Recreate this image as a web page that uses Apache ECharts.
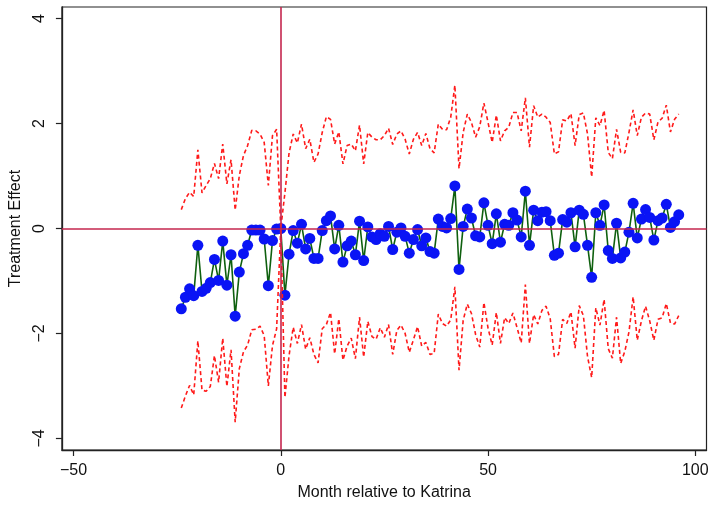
<!DOCTYPE html>
<html>
<head>
<meta charset="utf-8">
<script src="https://cdn.jsdelivr.net/npm/echarts@6/dist/echarts.min.js"></script>
<style>
html,body{margin:0;padding:0;background:#fff;}
#chart{width:713px;height:506px;}
</style>
</head>
<body>
<div id="chart"></div>
<script>
// Months relative to Katrina
var months = [-24,-23,-22,-21,-20,-19,-18,-17,-16,-15,-14,-13,-12,-11,-10,-9,-8,-7,-6,-5,-4,-3,-2,-1,
  0,1,2,3,4,5,6,7,8,9,10,11,12,13,14,15,16,17,18,19,20,21,22,23,24,25,26,27,28,29,30,31,32,33,34,35,36,
  37,38,39,40,41,42,43,44,45,46,47,48,49,50,51,52,53,54,55,56,57,58,59,60,61,62,63,64,65,66,67,68,69,70,
  71,72,73,74,75,76,77,78,79,80,81,82,83,84,85,86,87,88,89,90,91,92,93,94,95,96];

// Point estimates (treatment effect)
var estimate = [-1.53,-1.31,-1.15,-1.28,-0.32,-1.20,-1.14,-1.03,-0.59,-0.99,-0.24,-1.08,-0.50,-1.67,-0.83,-0.48,-0.32,-0.03,-0.03,-0.03,-0.20,-1.09,-0.23,-0.01,
  0.00,-1.27,-0.49,-0.04,-0.28,0.08,-0.39,-0.19,-0.57,-0.57,-0.04,0.15,0.24,-0.39,0.06,-0.64,-0.33,-0.24,-0.50,0.14,-0.61,0.03,-0.16,-0.21,-0.10,-0.15,0.04,-0.40,-0.07,0.01,-0.15,-0.47,-0.21,-0.02,-0.33,-0.18,-0.44,
  -0.47,0.18,0.04,0.01,0.19,0.81,-0.78,0.04,0.37,0.20,-0.14,-0.16,0.49,0.06,-0.29,0.28,-0.26,0.08,0.06,0.30,0.16,-0.16,0.71,-0.32,0.35,0.15,0.31,0.32,0.15,-0.51,-0.47,0.17,0.12,0.30,
  -0.35,0.35,0.27,-0.32,-0.93,0.30,0.06,0.45,-0.42,-0.57,0.10,-0.56,-0.45,-0.07,0.48,-0.18,0.18,0.36,0.21,-0.22,0.15,0.20,0.46,0.02,0.13,0.26];

// Half-width of the 95% confidence interval
var ciHalf = [1.89,1.88,1.84,1.89,1.82,1.88,1.96,1.98,1.83,1.94,1.85,1.93,1.81,2.02,1.84,1.87,1.90,1.90,1.89,1.83,1.84,1.91,2.00,1.90,
  0.00,1.95,1.93,1.84,1.91,1.91,1.91,1.89,1.83,1.99,1.87,1.98,1.84,2.00,1.78,1.87,1.91,1.85,1.98,1.83,1.84,1.80,1.90,1.90,1.79,1.92,1.87,2.00,1.87,1.85,1.85,1.89,1.91,1.85,1.91,1.99,1.96,
  1.91,1.81,1.85,1.87,1.93,1.92,1.92,1.79,1.81,1.82,1.88,2.10,1.90,1.96,1.93,1.88,1.93,1.78,1.87,1.91,2.05,2.02,1.78,1.87,1.99,1.97,1.87,1.80,1.87,1.93,1.93,1.90,1.93,1.89,
  1.93,1.82,1.93,2.12,1.91,1.81,1.90,1.80,1.87,1.90,1.79,2.01,1.89,1.90,1.78,1.95,1.94,1.84,1.97,1.91,1.88,1.90,1.89,1.82,1.95,1.92];

var xTicks = [-50, 0, 50, 100];
var yTicks = [-4, -2, 0, 2, 4];

var estData = [], upData = [], loData = [];
for (var i = 0; i < months.length; i++) {
  estData.push([months[i], estimate[i]]);
  upData.push([months[i], +(estimate[i] + ciHalf[i]).toFixed(3)]);
  loData.push([months[i], +(estimate[i] - ciHalf[i]).toFixed(3)]);
}

var FONT = 'Liberation Sans, Arial, sans-serif';
function fmt(v) { return v < 0 ? '\u2212' + Math.abs(v) : String(v); }
var chart = echarts.init(document.getElementById('chart'), null, {renderer: 'canvas'});
chart.setOption({
  animation: false,
  backgroundColor: '#ffffff',
  grid: {left: 60, right: 6.5, top: 7, bottom: 53.3, show: true, borderColor: '#222', borderWidth: 1.2, backgroundColor: 'transparent'},
  xAxis: {
    type: 'value', min: -52.8, max: 102.7,
    name: 'Month relative to Katrina', nameLocation: 'middle', nameGap: 35,
    nameTextStyle: {fontFamily: FONT, fontSize: 16, color: '#111'},
    axisLine: {show: true, onZero: false, lineStyle: {color: '#222', width: 1.3}},
    axisTick: {show: true, length: 6, customValues: xTicks, lineStyle: {color: '#222', width: 1.2}},
    axisLabel: {customValues: xTicks, margin: 13, fontFamily: FONT, fontSize: 16, color: '#111', formatter: fmt},
    splitLine: {show: false}
  },
  yAxis: {
    type: 'value', min: -4.22, max: 4.22,
    name: 'Treatment Effect', nameLocation: 'middle', nameGap: 35, nameRotate: 90,
    nameTextStyle: {fontFamily: FONT, fontSize: 16, color: '#111'},
    axisLine: {show: true, onZero: false, lineStyle: {color: '#222', width: 1.3}},
    axisTick: {show: true, length: 6, customValues: yTicks, lineStyle: {color: '#222', width: 1.2}},
    axisLabel: {customValues: yTicks, rotate: 90, margin: 14, fontFamily: FONT, fontSize: 16, color: '#111', formatter: fmt},
    splitLine: {show: false}
  },
  series: [
    {
      type: 'line', data: [], z: 1, silent: true,
      markLine: {
        silent: true, symbol: 'none', label: {show: false},
        lineStyle: {color: '#c5264e', width: 1.6, type: 'solid'},
        data: [{yAxis: 0}, {xAxis: 0}]
      }
    },
    {
      type: 'line', data: estData, z: 3,
      lineStyle: {color: '#0f600f', width: 1.6},
      symbol: 'circle', symbolSize: 11, showAllSymbol: true,
      itemStyle: {color: '#0a14f5', borderWidth: 0}
    },
    {
      type: 'line', data: upData, z: 4, symbol: 'none',
      lineStyle: {color: '#ff1a1a', width: 1.6, type: [4, 3]}
    },
    {
      type: 'line', data: loData, z: 4, symbol: 'none',
      lineStyle: {color: '#ff1a1a', width: 1.6, type: [4, 3]}
    }
  ]
});
</script>
</body>
</html>
